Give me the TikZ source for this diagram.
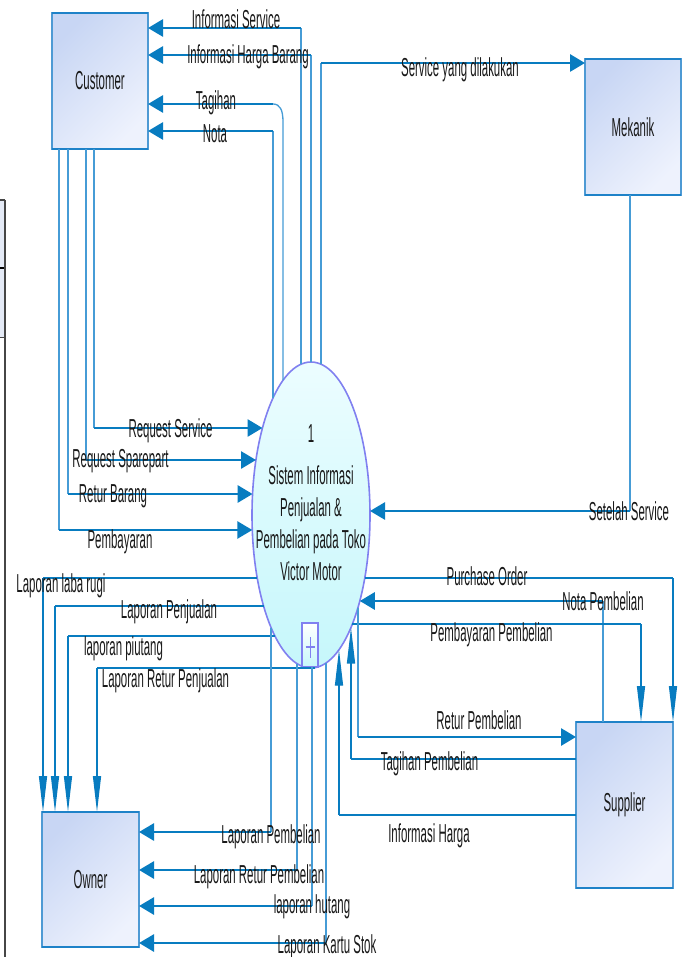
\documentclass[tikz,border=0pt]{standalone}
\usepackage{fontspec}
\setmainfont{Liberation Sans}[FakeStretch=0.44]
\usetikzlibrary{arrows.meta,shapes.geometric,calc}
\definecolor{fdark}{RGB}{8,124,192}
\definecolor{flight}{RGB}{70,156,214}
\definecolor{boxA}{RGB}{200,214,244}
\definecolor{boxB}{RGB}{238,242,253}
\definecolor{boxedge}{RGB}{78,154,212}
\definecolor{boxtop}{RGB}{30,130,200}
\definecolor{procedge}{RGB}{128,128,240}
\definecolor{procA}{RGB}{236,253,255}
\definecolor{procB}{RGB}{198,247,251}
\definecolor{txt}{RGB}{25,25,25}
\definecolor{artfill}{RGB}{228,234,246}
\definecolor{artline}{RGB}{70,70,70}
\begin{document}
\begin{tikzpicture}[x=1pt,y=-1pt,
  txtfont/.style={font=\fontsize{26}{32}\selectfont, text=txt},
  entity/.style={rectangle, draw=boxedge, line width=1.2pt, top color=boxA, bottom color=boxB, shading angle=45,
    minimum width=96pt, minimum height=136pt, inner sep=0pt, outer sep=0pt, txtfont},
  hedge/.style={draw=boxtop, line width=2.6pt},
  proc/.style={ellipse, draw=procedge, line width=1.6pt, top color=procA, bottom color=procB,
    minimum width=118pt, minimum height=306pt, inner sep=0pt, outer sep=0pt},
  subbox/.style={rectangle, draw=procedge, line width=1.2pt, top color=white, bottom color=procB,
    minimum width=16pt, minimum height=44pt, inner sep=0pt, outer sep=0pt},
  lbl/.style={txtfont, inner sep=0pt, anchor=base},
  hl/.style={draw=fdark, line width=2.8pt},
  vl/.style={draw=flight, line width=1.3pt},
  harr/.style={hl, -{Triangle[length=15pt,width=17pt]}},
  varr/.style={vl, draw=fdark, -{Triangle[length=36pt,width=8pt]}}
]
\useasboundingbox (0,0) rectangle (682,957);
\fill[white] (0,0) rectangle (682,957);

% cropped artefact at the left edge
\fill[artfill] (0,200) rectangle (5,337);
\draw[artline, line width=1.5pt] (0,200) -- (5,200);
\draw[black, line width=2pt] (0,268) -- (5,268);
\draw[artline, line width=1pt] (0,337) -- (5,337);
\draw[artline, line width=1.3pt] (5,200) -- (5,957);

% entities
\node[entity] (cust) at (100,81) {Customer};
\node[entity] (mek) at (633,127) {Mekanik};
\node[entity, minimum width=97pt, minimum height=135pt] (own) at (90.5,879.5) {Owner};
\node[entity, minimum width=97pt, minimum height=166pt] (sup) at (624.5,805) {Supplier};
\foreach \n in {cust,mek,own,sup}
  \draw[hedge] (\n.north west) -- (\n.north east) (\n.south west) -- (\n.south east);

% process
\node[proc] (E) at (311,515) {};
\node[txtfont, align=center, anchor=north, inner sep=0pt] (Etext) at (311,424.5)
  {1\\[10pt]Sistem Informasi\\Penjualan \&\\Pembelian pada Toko\\Victor Motor};
\node[subbox] (E1) at (310,645) {};
\draw[procedge, line width=2.2pt] (E1.north west) -- (E1.north east);
\draw[procedge, line width=1.8pt] ($(E1.center)+(-4.5,2)$) -- ($(E1.center)+(4.5,2)$);
\draw[procedge, line width=1pt] ($(E1.center)+(0,-8)$) -- ($(E1.center)+(0,13)$);

% points on the process border
\coordinate (eIS) at (301,364.2);
\coordinate (eIH) at (311,362);
\coordinate (eSV) at (321,364.2);
\coordinate (eTG) at (283,380);
\coordinate (eNT) at (273,398);
\coordinate (eRS) at (262.5,428);
\coordinate (eRP) at (256,460);
\coordinate (eRB) at (252.6,494);
\coordinate (ePB) at (252.3,530);
\coordinate (eSS) at (370,511);
\coordinate (ePO) at (365,578);
\coordinate (eNP) at (359.8,601);
\coordinate (ePP) at (352.4,624);
\coordinate (eRtP) at (358,607.5);
\coordinate (eTP) at (351,627.5);
\coordinate (eIHg) at (339,649.7);
\coordinate (eLR) at (257,578);
\coordinate (eLP) at (263.6,606);
\coordinate (eLPi) at (274.9,636);
\coordinate (eLRP) at (315,668);
\coordinate (eLPb) at (271,627.5);
\coordinate (eLRb) at (297,663.6);
\coordinate (eLH) at (312,667);
\coordinate (eLK) at (326,663);

% bends
\coordinate (kIS) at (301,28);
\coordinate (kIH) at (311,55);
\coordinate (kSV) at (321,63);
\coordinate (kTG) at (273,104);
\coordinate (kNT) at (273,131);
\coordinate (kRS) at (94,428);
\coordinate (kRP) at (86,460);
\coordinate (kRB) at (68,494);
\coordinate (kPB) at (59,530);
\coordinate (kSS) at (630,511);
\coordinate (kPO) at (673,578);
\coordinate (kNP) at (603,601);
\coordinate (kPP) at (641,624);
\coordinate (kRtP) at (358,737);
\coordinate (kTP) at (351,759);
\coordinate (kIHg) at (339,815);
\coordinate (kLR) at (43,578);
\coordinate (kLP) at (55,606);
\coordinate (kLPi) at (68,636);
\coordinate (kLRP) at (97,668);
\coordinate (kLPb) at (271,832);
\coordinate (kLRb) at (297,870);
\coordinate (kLH) at (312,906);
\coordinate (kLK) at (326,943);

% process -> customer
\draw[vl] (eIS) -- (kIS);  \draw[harr] (kIS) -- (cust.east |- kIS);
\draw[vl] (eIH) -- (kIH);  \draw[harr] (kIH) -- (cust.east |- kIH);
\draw[vl] (eTG) -- (283,122) .. controls (283,110) and (280,104) .. (kTG);
\draw[harr] (kTG) -- (cust.east |- kTG);
\draw[vl] (eNT) -- (kNT);  \draw[harr] (kNT) -- (cust.east |- kNT);
% process -> mekanik
\draw[vl] (eSV) -- (kSV);  \draw[harr] (kSV) -- (mek.west |- kSV);
% customer -> process
\draw[vl] (cust.south -| kRS) -- (kRS); \draw[harr] (kRS) -- (eRS);
\draw[vl] (cust.south -| kRP) -- (kRP); \draw[harr] (kRP) -- (eRP);
\draw[vl] (cust.south -| kRB) -- (kRB); \draw[harr] (kRB) -- (eRB);
\draw[vl] (cust.south -| kPB) -- (kPB); \draw[harr] (kPB) -- (ePB);
% mekanik -> process
\draw[vl] (mek.south -| kSS) -- (kSS); \draw[harr] (kSS) -- (eSS);
% process <-> supplier
\draw[hl] (ePO) -- (kPO);  \draw[varr] (kPO) -- (sup.north -| kPO);
\draw[vl] (sup.north -| kNP) -- (kNP); \draw[harr] (kNP) -- (eNP);
\draw[hl] (ePP) -- (kPP);  \draw[varr] (kPP) -- (sup.north -| kPP);
\draw[vl] (eRtP) -- (kRtP); \draw[harr] (kRtP) -- (sup.west |- kRtP);
\draw[hl] (sup.west |- kTP) -- (kTP); \draw[varr] (kTP) -- (eTP);
\draw[hl] (sup.west |- kIHg) -- (kIHg); \draw[varr] (kIHg) -- (eIHg);
% process -> owner (top)
\draw[hl] (eLR) -- (kLR);   \draw[varr] (kLR) -- (own.north -| kLR);
\draw[hl] (eLP) -- (kLP);   \draw[varr] (kLP) -- (own.north -| kLP);
\draw[hl] (eLPi) -- (kLPi); \draw[varr] (kLPi) -- (own.north -| kLPi);
\draw[hl] (eLRP) -- (kLRP); \draw[varr] (kLRP) -- (own.north -| kLRP);
% process -> owner (side)
\draw[vl] (eLPb) -- (kLPb); \draw[harr] (kLPb) -- (own.east |- kLPb);
\draw[vl] (eLRb) -- (kLRb); \draw[harr] (kLRb) -- (own.east |- kLRb);
\draw[vl] (eLH) -- (kLH);   \draw[harr] (kLH) -- (own.east |- kLH);
\draw[vl] (eLK) -- (kLK);   \draw[harr] (kLK) -- (own.east |- kLK);

% labels
\node[lbl] (tIS) at (236,29) {Informasi Service};
\node[lbl] (tIH) at (248,64) {Informasi Harga Barang};
\node[lbl] (tTG) at (216,110) {Tagihan};
\node[lbl] (tNT) at (215,143) {Nota};
\node[lbl] (tSV) at (460,77) {Service yang dilakukan};
\node[lbl] (tRS) at (170.5,437) {Request Service};
\node[lbl] (tRP) at (120.5,467) {Request Sparepart};
\node[lbl] (tRB) at (113,502) {Retur Barang};
\node[lbl] (tPB) at (120,548) {Pembayaran};
\node[lbl] (tSS) at (629,520) {Setelah Service};
\node[lbl] (tPO) at (487,585) {Purchase Order};
\node[lbl] (tNP) at (603,610) {Nota Pembelian};
\node[lbl] (tPP) at (491.5,641) {Pembayaran Pembelian};
\node[lbl] (tRtP) at (479,729) {Retur Pembelian};
\node[lbl] (tTP) at (429.5,770) {Tagihan Pembelian};
\node[lbl] (tIHg) at (429,842) {Informasi Harga};
\node[lbl] (tLR) at (61,592) {Laporan laba rugi};
\node[lbl] (tLP) at (169,618) {Laporan Penjualan};
\node[lbl] (tLPi) at (123.5,655) {laporan piutang};
\node[lbl] (tLRP) at (165.5,687) {Laporan Retur Penjualan};
\node[lbl] (tLPb) at (271,843) {Laporan Pembelian};
\node[lbl] (tLRb) at (259,883) {Laporan Retur Pembelian};
\node[lbl] (tLH) at (312,913) {laporan hutang};
\node[lbl] (tLK) at (327,953) {Laporan Kartu Stok};
\end{tikzpicture}
\end{document}
